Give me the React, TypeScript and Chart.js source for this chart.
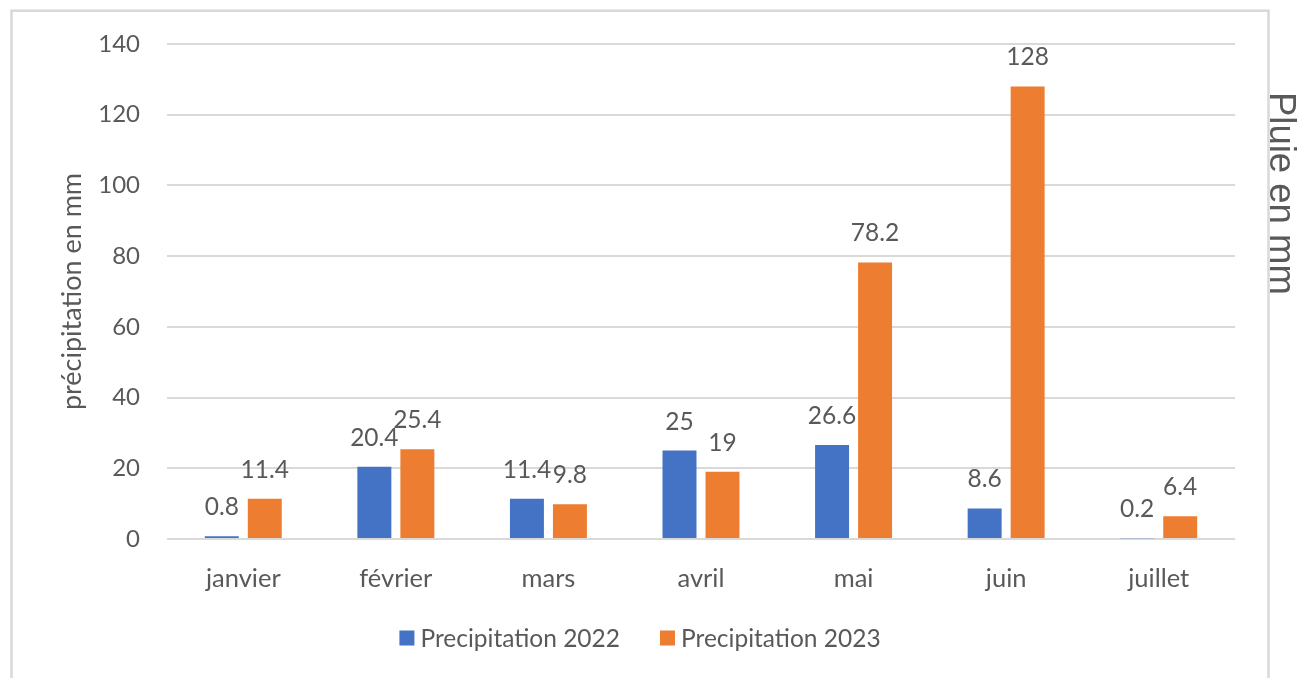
import React, { useEffect, useRef } from 'react';
import { Chart, registerables } from 'chart.js';

Chart.register(...registerables);

const months = ['janvier', 'février', 'mars', 'avril', 'mai', 'juin', 'juillet'];
const precip2022 = [0.8, 20.4, 11.4, 25, 26.6, 8.6, 0.2];
const precip2023 = [11.4, 25.4, 9.8, 19, 78.2, 128, 6.4];
const seriesNames = ['Precipitation 2022', 'Precipitation 2023'];
const seriesColors = ['#4472C4', '#ED7D31'];
const yMin = 0;
const yMax = 140;
const yStep = 20;
const yTitle = 'précipitation en mm';
const rightTitle = 'Pluie en mm';

const TEXT = '#595959';
const FONT = 'Lato';

const framePlugin = {
  id: 'frame',
  beforeDraw(chart: any) {
    const ctx = chart.ctx;
    ctx.save();
    ctx.fillStyle = '#ffffff';
    ctx.fillRect(0, 0, chart.width, chart.height);
    ctx.strokeStyle = '#d9d9d9';
    ctx.lineWidth = 2.5;
    ctx.strokeRect(11.5, 10.7, 1257, 720);
    ctx.restore();
  },
  afterDraw(chart: any) {
    const ctx = chart.ctx;
    ctx.save();
    // right-hand title
    ctx.translate(1270, 92);
    ctx.rotate(Math.PI / 2);
    ctx.font = '36.5px "Liberation Sans"';
    ctx.fillStyle = TEXT;
    ctx.textAlign = 'left';
    ctx.textBaseline = 'alphabetic';
    ctx.fillText(rightTitle, 0, 0);
    ctx.restore();

    // legend
    ctx.save();
    ctx.font = `24.5px ${FONT}`;
    ctx.textBaseline = 'middle';
    ctx.textAlign = 'left';
    const box = 15;
    const gapBoxText = 6;
    const gapItems = 40;
    const widths = seriesNames.map((n) => ctx.measureText(n).width);
    const total = widths.reduce((a, w) => a + box + gapBoxText + w, 0) + gapItems * (seriesNames.length - 1);
    let x = 640 - total / 2;
    const yc = chart.chartArea.bottom + 99;
    seriesNames.forEach((n, i) => {
      ctx.fillStyle = seriesColors[i];
      ctx.fillRect(x, yc - box / 2, box, box);
      ctx.fillStyle = TEXT;
      ctx.fillText(n, x + box + gapBoxText, yc + 1);
      x += box + gapBoxText + widths[i] + gapItems;
    });
    ctx.restore();
  },
  afterDatasetsDraw(chart: any) {
    const ctx = chart.ctx;
    ctx.save();
    ctx.font = `24.5px ${FONT}`;
    ctx.fillStyle = TEXT;
    ctx.textAlign = 'center';
    ctx.textBaseline = 'middle';
    chart.data.datasets.forEach((ds: any, di: number) => {
      const meta = chart.getDatasetMeta(di);
      meta.data.forEach((bar: any, i: number) => {
        ctx.fillText(String(ds.data[i]), bar.x, bar.y - 29);
      });
    });
    ctx.restore();
  },
};

export default function App() {
  const ref = useRef<HTMLCanvasElement>(null);
  useEffect(() => {
    if (!ref.current) return;
    const chart = new Chart(ref.current, {
      type: 'bar',
      data: {
        labels: months,
        datasets: [
          {
            label: seriesNames[0],
            data: precip2022,
            backgroundColor: seriesColors[0],
            categoryPercentage: 0.5637,
            barPercentage: 0.79,
          },
          {
            label: seriesNames[1],
            data: precip2023,
            backgroundColor: seriesColors[1],
            categoryPercentage: 0.5637,
            barPercentage: 0.79,
          },
        ],
      },
      options: {
        responsive: false,
        animation: false,
        layout: { padding: { left: 0, right: 62, top: 44, bottom: 79 } },
        plugins: {
          legend: { display: false },
          tooltip: { enabled: false },
        },
        scales: {
          x: {
            grid: { display: false, drawTicks: false },
            border: { display: false },
            ticks: { color: TEXT, font: { family: FONT, size: 25.5 }, padding: 24 },
            afterFit: (s: any) => {
              s.height = 60;
            },
          },
          y: {
            min: yMin,
            max: yMax,
            ticks: { stepSize: yStep, color: TEXT, font: { family: FONT, size: 24 }, padding: 27 },
            grid: { color: '#d9d9d9', lineWidth: 2, drawTicks: false },
            border: { display: false },
            title: {
              display: true,
              text: yTitle,
              color: TEXT,
              font: { family: FONT, size: 27 },
              padding: { top: 56, bottom: 0 },
            },
            afterFit: (s: any) => {
              s.width = 167;
            },
          },
        },
      },
      plugins: [framePlugin],
    });
    return () => chart.destroy();
  }, []);
  return (
    <div style={{ position: 'fixed', left: 0, top: 0, width: 1297, height: 678 }}>
      <canvas ref={ref} width={1297} height={678} style={{ display: 'block' }} />
    </div>
  );
}
